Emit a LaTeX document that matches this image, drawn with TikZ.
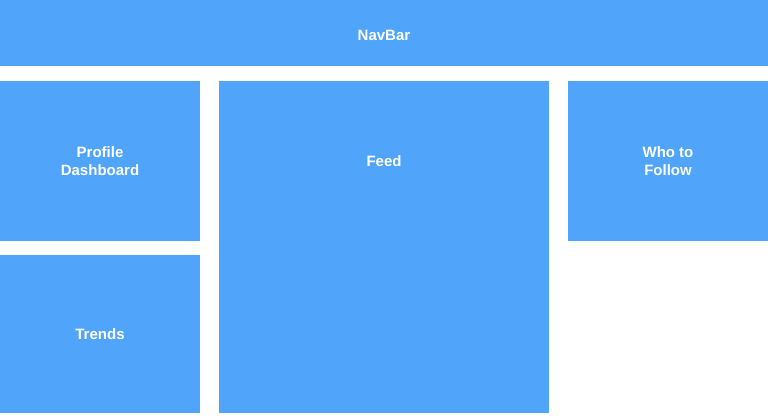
\documentclass[tikz,border=0pt]{standalone}
\usepackage{fontspec}
\setmainfont{Liberation Sans}
\definecolor{boxblue}{RGB}{80,165,250}
\begin{document}
\begin{tikzpicture}[x=1pt,y=-1pt,
  panel/.style={fill=boxblue,draw=none},
  lbl/.style={text=white,font=\bfseries\fontsize{15}{18}\selectfont,align=center}]
\useasboundingbox (0,0) rectangle (768,417);
\fill[panel] (0,0) rectangle (768,66.5);
\fill[panel] (0,81.5) rectangle (200,240.5);
\fill[panel] (0,254.5) rectangle (200,413);
\fill[panel] (219,81.5) rectangle (549,413);
\fill[panel] (568,81.5) rectangle (768,240.5);
\node[lbl] (nav) at (384,35) {NavBar};
\node[lbl] (prof) at (100,161) {Profile\\Dashboard};
\node[lbl] (feed) at (384,161) {Feed};
\node[lbl] (who) at (668,161) {Who to\\Follow};
\node[lbl] (trends) at (100,334) {Trends};
\end{tikzpicture}
\end{document}
